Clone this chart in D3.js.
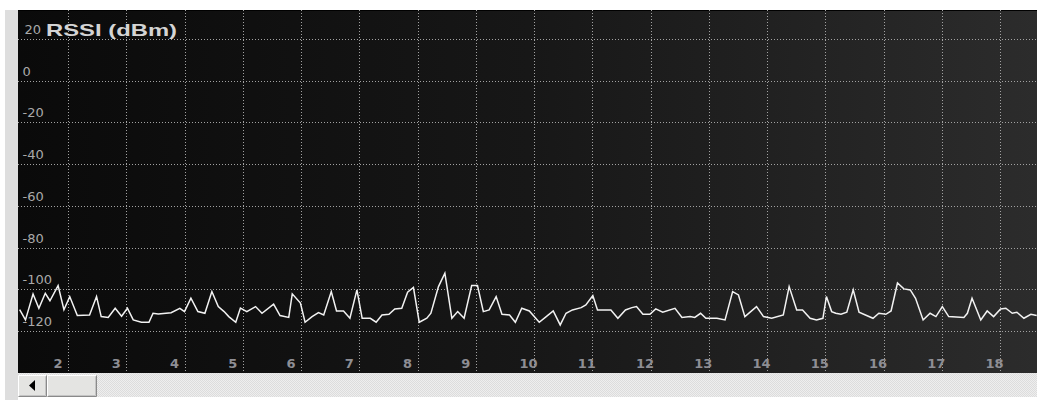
<!DOCTYPE html>
<html>
<head>
<meta charset="utf-8">
<script src="https://cdn.jsdelivr.net/npm/d3@7"></script>
<style>
  html, body { margin: 0; padding: 0; background: #ffffff; overflow: hidden; }
  svg { display: block; }
</style>
</head>
<body>
<svg id="chart" width="1037" height="400"></svg>
<script>
// Spectrum sweep: channel position vs. received signal strength
const channels = [1.17,1.27,1.40,1.50,1.61,1.69,1.83,1.93,2.03,2.16,2.37,2.49,2.57,2.69,2.81,2.92,3.02,3.12,3.26,3.39,3.46,3.55,3.77,3.92,4.00,4.11,4.23,4.35,4.47,4.58,4.68,4.76,4.88,4.96,5.07,5.22,5.33,5.53,5.64,5.79,5.85,5.99,6.07,6.19,6.30,6.39,6.52,6.61,6.73,6.84,6.96,7.05,7.19,7.29,7.39,7.51,7.61,7.73,7.83,7.93,8.03,8.16,8.23,8.36,8.47,8.59,8.69,8.80,8.93,9.03,9.13,9.23,9.35,9.45,9.58,9.68,9.79,9.92,10.09,10.21,10.33,10.45,10.55,10.66,10.81,10.89,11.01,11.09,11.32,11.44,11.57,11.68,11.76,11.87,11.99,12.09,12.21,12.42,12.54,12.68,12.76,12.86,12.95,13.14,13.28,13.41,13.51,13.62,13.82,13.94,14.08,14.28,14.38,14.51,14.61,14.74,14.85,14.96,15.02,15.11,15.18,15.27,15.37,15.48,15.58,15.69,15.82,15.92,16.04,16.13,16.24,16.35,16.46,16.55,16.68,16.80,16.90,17.01,17.12,17.38,17.44,17.52,17.67,17.78,17.89,18.01,18.10,18.21,18.29,18.41,18.53,18.63];
const rssi = [-109.8,-114.7,-102.3,-109.1,-101.9,-105.5,-98.2,-109.8,-103.5,-112.6,-112.3,-103.5,-113.1,-113.5,-109.1,-112.9,-109.1,-114.7,-115.8,-115.8,-111.5,-111.8,-111.2,-109.1,-110.7,-104.3,-110.7,-111.5,-101.1,-108.3,-110.7,-113.1,-115.8,-109,-110.7,-108.3,-111.5,-107.1,-112.6,-113.5,-102.2,-106.6,-115.8,-113.1,-111.2,-112.3,-101.1,-110.4,-110.4,-113.9,-100.3,-113.9,-113.9,-115.8,-112.3,-112,-109.4,-109.1,-101.4,-99.1,-115.8,-113.9,-111.5,-98.7,-92.3,-113.9,-110.7,-113.9,-98.2,-98.2,-110.7,-109.9,-103.5,-112,-112.3,-115.8,-109.1,-110.4,-115.8,-113.1,-110.4,-117.1,-111.5,-109.9,-108.8,-107.5,-103,-109.9,-109.9,-113.9,-109.9,-108.8,-108.3,-112,-112,-109.4,-111,-109.1,-113.5,-113.1,-113.5,-111.5,-113.9,-113.9,-114.7,-101.1,-102.7,-113.1,-108.3,-113.1,-113.9,-112.3,-98.7,-109.9,-109.9,-113.9,-114.7,-113.9,-103.5,-110.7,-111.5,-112,-111,-100.3,-111,-112.3,-113.9,-111.5,-112,-110.4,-97,-99.8,-100.3,-104.3,-114.7,-111.5,-113.1,-108.3,-113.1,-113.5,-111.5,-104.3,-114.7,-110.4,-113.1,-109.4,-109.1,-111.5,-111,-113.9,-112,-112.6];
const xTicks = [2,3,4,5,6,7,8,9,10,11,12,13,14,15,16,17,18];
const yTicks = [-120,-100,-80,-60,-40,-20,0,20];
const yTitle = "RSSI (dBm)";

const W = 1037, H = 400;
const plot = { left: 18, top: 10, right: 1037, bottom: 373 };

const svg = d3.select("#chart");
const defs = svg.append("defs");

// background shading of the plot panel: dark on the left, lighter grey to the right
const grad = defs.append("linearGradient").attr("id", "panelShade")
  .attr("x1", 0).attr("y1", 0).attr("x2", 1).attr("y2", 0);
grad.append("stop").attr("offset", 0).attr("stop-color", "#0a0a0a");
grad.append("stop").attr("offset", 0.5).attr("stop-color", "#171717");
grad.append("stop").attr("offset", 1).attr("stop-color", "#2c2c2c");

// fine dither used by the scrollbar track
const dither = defs.append("pattern").attr("id", "track")
  .attr("width", 2).attr("height", 2).attr("patternUnits", "userSpaceOnUse");
dither.append("rect").attr("width", 2).attr("height", 2).attr("fill", "#eeeeee");
dither.append("rect").attr("width", 1).attr("height", 1).attr("fill", "#dcdcdc");
dither.append("rect").attr("x", 1).attr("y", 1).attr("width", 1).attr("height", 1).attr("fill", "#dcdcdc");

defs.append("clipPath").attr("id", "plotClip").append("rect")
  .attr("x", plot.left).attr("y", plot.top)
  .attr("width", plot.right - plot.left).attr("height", plot.bottom - plot.top);

// window chrome
svg.append("rect").attr("x", 0).attr("y", 0).attr("width", W).attr("height", H).attr("fill", "#ffffff");
svg.append("rect").attr("x", 5).attr("y", plot.top).attr("width", plot.left - 5).attr("height", H - plot.top)
  .attr("fill", "#dedede");

// plot panel
svg.append("rect")
  .attr("x", plot.left).attr("y", plot.top)
  .attr("width", plot.right - plot.left).attr("height", plot.bottom - plot.top)
  .attr("fill", "url(#panelShade)");
svg.append("line")
  .attr("x1", plot.left).attr("x2", plot.right).attr("y1", plot.top + 0.5).attr("y2", plot.top + 0.5)
  .attr("stroke", "#000000").attr("stroke-width", 1);

const x = d3.scaleLinear().domain([2, 18]).range([68, 1000]);
const y = d3.scaleLinear().domain([-120, 20]).range([331, 39]);

const grid = svg.append("g").attr("clip-path", "url(#plotClip)");

grid.selectAll("line.vgrid").data(xTicks).join("line")
  .attr("class", "vgrid")
  .attr("x1", d => Math.round(x(d)) + 0.5).attr("x2", d => Math.round(x(d)) + 0.5)
  .attr("y1", plot.top).attr("y2", plot.bottom)
  .attr("stroke", "#a2a2a2").attr("stroke-width", 1).attr("stroke-dasharray", "1,2");

grid.selectAll("line.hgrid").data(yTicks).join("line")
  .attr("class", "hgrid")
  .attr("x1", plot.left).attr("x2", plot.right)
  .attr("y1", d => Math.round(y(d)) + 0.5).attr("y2", d => Math.round(y(d)) + 0.5)
  .attr("stroke", "#a2a2a2").attr("stroke-width", 1).attr("stroke-dasharray", "1,2");

// y tick labels sit just above their grid line
svg.selectAll("text.ylab").data(yTicks).join("text")
  .attr("class", "ylab")
  .attr("x", d => d === 20 ? 24.5 : 22.5).attr("y", d => y(d) - 5)
  .attr("font-family", "DejaVu Sans, Verdana, sans-serif")
  .attr("font-size", 13)
  .attr("fill", "#a9a9a9")
  .text(d => d);

// axis title right after the top label
svg.append("text")
  .attr("x", 46).attr("y", 36)
  .attr("font-family", "Liberation Sans, Arial, sans-serif")
  .attr("font-weight", "bold")
  .attr("font-size", 17)
  .attr("textLength", 131).attr("lengthAdjust", "spacingAndGlyphs")
  .attr("fill", "#d4d4d4")
  .text(yTitle);

// x tick labels, placed to the left of each grid line
svg.selectAll("text.xlab").data(xTicks).join("text")
  .attr("class", "xlab")
  .attr("x", d => x(d) - 14.5).attr("y", 367.5)
  .attr("font-family", "DejaVu Sans, Verdana, sans-serif")
  .attr("font-weight", "bold")
  .attr("font-size", 13)
  .attr("fill", "#8e8e94")
  .text(d => d);

// signal trace
const pts = channels.map((c, i) => [c, rssi[i]]);
const line = d3.line().x(d => x(d[0])).y(d => y(d[1]));
svg.append("g").attr("clip-path", "url(#plotClip)")
  .append("path")
  .datum(pts)
  .attr("d", line)
  .attr("fill", "none")
  .attr("stroke", "#f2f2f2")
  .attr("stroke-width", 1.5)
  .attr("stroke-linejoin", "miter");

// horizontal scrollbar under the panel
svg.append("rect").attr("x", plot.left).attr("y", plot.bottom).attr("width", plot.right - plot.left)
  .attr("height", H - plot.bottom - 3).attr("fill", "url(#track)");

function button(x0, x1, y0, y1) {
  const g = svg.append("g");
  g.append("rect").attr("x", x0).attr("y", y0).attr("width", x1 - x0).attr("height", y1 - y0).attr("fill", "#e4e4e2");
  g.append("path").attr("d", `M${x0 + 0.5},${y1 - 0.5}V${y0 + 0.5}H${x1 - 0.5}`)
    .attr("fill", "none").attr("stroke", "#ffffff");
  g.append("path").attr("d", `M${x0 + 0.5},${y1 - 0.5}H${x1 - 0.5}V${y0 + 0.5}`)
    .attr("fill", "none").attr("stroke", "#8a8a8a");
  g.append("path").attr("d", `M${x0 + 1.5},${y1 - 1.5}H${x1 - 1.5}V${y0 + 1.5}`)
    .attr("fill", "none").attr("stroke", "#c4c4c4");
  return g;
}
button(18, 47, 375, 397);
svg.append("path").attr("d", "M29,385.5L35,380V391Z").attr("fill", "#000000");
button(47, 97, 375, 397);
</script>
</body>
</html>
